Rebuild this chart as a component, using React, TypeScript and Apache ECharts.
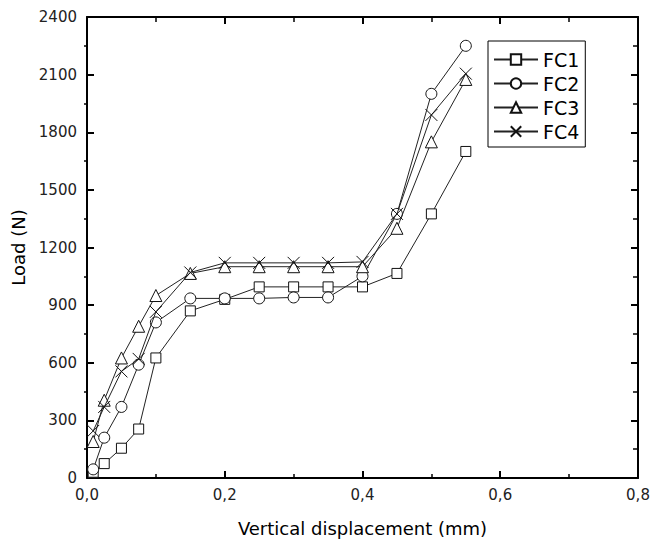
import React, { useEffect, useRef } from "react";
import * as echarts from "echarts";

const xValues = [0.009, 0.025, 0.05, 0.075, 0.1, 0.15, 0.2, 0.25, 0.3, 0.35, 0.4, 0.45, 0.5, 0.55];
const fc1 = [30, 75, 155, 255, 625, 870, 930, 995, 995, 995, 995, 1065, 1375, 1700];
const fc2 = [45, 210, 370, 590, 810, 935, 935, 935, 940, 940, 1050, 1375, 2000, 2250];
const fc3 = [190, 405, 625, 790, 950, 1065, 1100, 1100, 1100, 1100, 1100, 1300, 1750, 2075];
const fc4 = [245, 370, 555, 620, 865, 1070, 1120, 1120, 1120, 1120, 1125, 1375, 1890, 2105];
const seriesNames = ["FC1", "FC2", "FC3", "FC4"];
const xAxisName = "Vertical displacement (mm)";
const yAxisName = "Load (N)";

const FONT = "DejaVu Sans";
const CROSS = "path://M0,0L10,10M10,0L0,10";

export default function App() {
  const ref = useRef<HTMLDivElement>(null);
  useEffect(() => {
    if (!ref.current) return;
    const chart = echarts.init(ref.current, null, { renderer: "svg" });
    const allY = [fc1, fc2, fc3, fc4];
    const symbols = ["rect", "circle", "triangle", CROSS];
    const sizes = [10, 11, 12, 12];
    const fmtX = (v: number) => v.toFixed(1).replace(".", ",");
    const fmtY = (v: number) => String(Math.round(v));
    const line = { show: true, onZero: false, lineStyle: { color: "#000", width: 2 } };
    const majorTick = { show: true, inside: true, length: 7, lineStyle: { color: "#000", width: 2 } };
    chart.setOption({
      animation: false,
      backgroundColor: "#fff",
      grid: {
        left: 87,
        top: 17,
        right: 12,
        bottom: 64,
        containLabel: false,
        outerBoundsMode: "none",
      },
      legend: {
        left: 488,
        top: 41,
        orient: "vertical",
        data: seriesNames,
        borderColor: "#000",
        borderWidth: 1,
        padding: [9, 6, 6, 5],
        itemGap: 5,
        itemWidth: 44,
        itemHeight: 13,
        textStyle: { fontFamily: FONT, fontSize: 19, color: "#000" },
      },
      xAxis: [
        {
          type: "value",
          min: 0,
          max: 0.8,
          interval: 0.2,
          position: "bottom",
          name: xAxisName,
          nameLocation: "middle",
          nameGap: 41,
          nameTextStyle: { fontFamily: FONT, fontSize: 18, color: "#000" },
          axisLine: line,
          splitLine: { show: false },
          axisTick: majorTick,
          minorTick: { show: true, splitNumber: 2, length: 4, lineStyle: { color: "#000", width: 1.5 } },
          axisLabel: {
            formatter: fmtX,
            fontFamily: FONT,
            fontSize: 15,
            color: "#222",
            margin: 9,
            showMinLabel: true,
            showMaxLabel: true,
          },
        },
        {
          type: "value",
          min: 0,
          max: 0.8,
          interval: 0.2,
          position: "top",
          axisLine: line,
          splitLine: { show: false },
          axisTick: majorTick,
          minorTick: { show: true, splitNumber: 2, length: 5, lineStyle: { color: "#000", width: 1.5 } },
          axisLabel: { show: false },
        },
      ],
      yAxis: [
        {
          type: "value",
          min: 0,
          max: 2400,
          interval: 300,
          position: "left",
          name: yAxisName,
          nameLocation: "middle",
          nameGap: 50,
          nameRotate: 90,
          nameTextStyle: { fontFamily: FONT, fontSize: 18, color: "#000" },
          axisLine: line,
          splitLine: { show: false },
          axisTick: majorTick,
          minorTick: { show: false },
          axisLabel: {
            formatter: fmtY,
            fontFamily: FONT,
            fontSize: 15,
            color: "#222",
            margin: 10,
            showMinLabel: true,
            showMaxLabel: true,
          },
        },
        {
          type: "value",
          min: 0,
          max: 2400,
          interval: 300,
          position: "right",
          axisLine: line,
          splitLine: { show: false },
          axisTick: majorTick,
          minorTick: { show: true, splitNumber: 2, length: 5, lineStyle: { color: "#000", width: 1.5 } },
          axisLabel: { show: false },
        },
        {
          type: "value",
          min: 0,
          max: 2400,
          interval: 300,
          position: "left",
          axisLine: { show: false, onZero: false },
          splitLine: { show: false },
          axisTick: { show: false, inside: false },
          minorTick: { show: true, splitNumber: 2, length: 3, lineStyle: { color: "#000", width: 1.5 } },
          axisLabel: { show: false },
        },
      ],
      series: seriesNames.map((name, i) => ({
        name,
        type: "line",
        xAxisIndex: 0,
        yAxisIndex: 0,
        data: xValues.map((x, j) => [x, allY[i][j]]),
        symbol: symbols[i],
        symbolSize: sizes[i],
        showAllSymbol: true,
        lineStyle: { color: "#222", width: 1 },
        itemStyle: { color: "#fff", borderColor: "#111", borderWidth: 1 },
        emphasis: { disabled: true },
        z: 2 + i,
      })),
    });
    return () => chart.dispose();
  }, []);
  return (
    <div
      ref={ref}
      style={{ position: "fixed", left: 0, top: 0, width: 650, height: 542, background: "#fff" }}
    />
  );
}
